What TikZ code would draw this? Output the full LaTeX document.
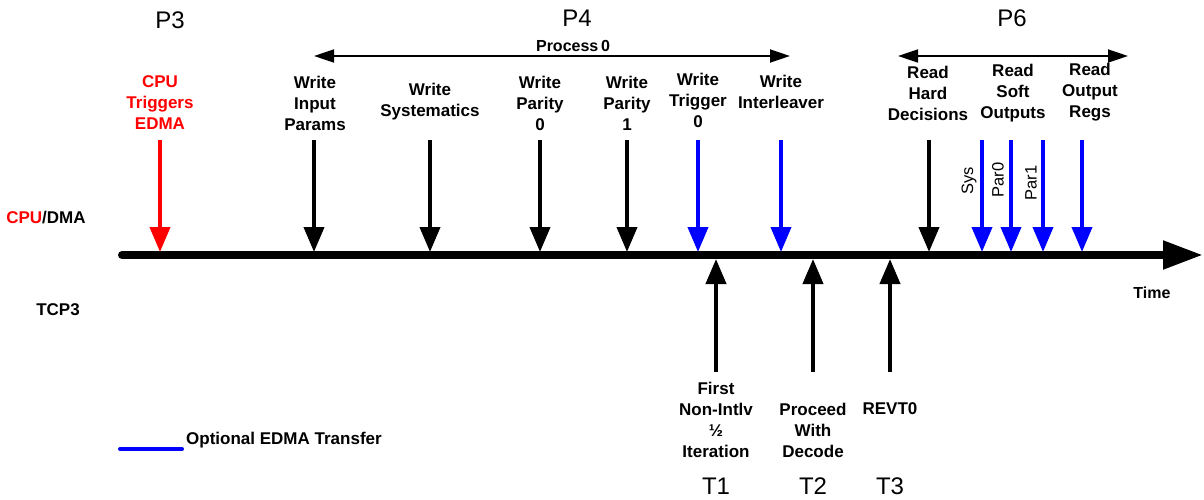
\documentclass[tikz,border=0pt]{standalone}
\usepackage{fontspec}
\setmainfont{Liberation Sans}
\usetikzlibrary{arrows.meta}
\begin{document}
\begin{tikzpicture}[x=1pt,y=-1pt,
  lbl/.style={font=\fontsize{17}{21}\selectfont\bfseries, align=center, inner sep=0pt},
  small/.style={font=\fontsize{16}{19}\selectfont\bfseries, inner sep=0pt},
  phase/.style={font=\fontsize{24}{28}\selectfont, inner sep=0pt},
  rot/.style={font=\fontsize{16.5}{19}\selectfont, inner sep=0pt, rotate=90},
  evt/.style={line width=4pt, -{Triangle[length=25pt,width=20pt]}},
  opt/.style={evt, draw=blue, fill=blue},
  span/.style={line width=1.8pt, {Triangle[length=20pt,width=13pt]}-{Triangle[length=20pt,width=13pt]}},
  axis/.style={line width=8pt, line cap=round, -{Triangle[length=40pt,width=27pt]}},
]
\useasboundingbox (0,0) rectangle (1204,500);

% phase headings
\node[phase] (p3) at (170,20) {P3};
\node[phase] (p4) at (577,18) {P4};
\node[phase] (p6) at (1012,18) {P6};

% spans over the phases
\coordinate (s4a) at (314,56);
\coordinate (s4b) at (790,56);
\draw[span] (s4a) -- (s4b);
\node[small] (proc) at (573,46) {Process\,0};
\coordinate (s6a) at (898,56);
\coordinate (s6b) at (1128,56);
\draw[span] (s6a) -- (s6b);

% row labels
\node[lbl] (cpudma) at (46,218) {\textcolor{red}{CPU}/DMA};
\node[lbl] (tcp) at (58,310) {TCP3};

% time axis
\coordinate (ax0) at (122,255);
\coordinate (ax1) at (1203,255);
\draw[axis] (ax0) -- (ax1);
\node[small] (time) at (1152,293) {Time};

% CPU / DMA events (above the axis)
\node[lbl, text=red] (cpu) at (160,103) {CPU\\Triggers\\EDMA};
\node[lbl] (win) at (315,103) {Write\\Input\\Params};
\node[lbl] (wsys) at (430,102) {Write\\Systematics};
\node[lbl] (wp0) at (540,103) {Write\\Parity\\0};
\node[lbl] (wp1) at (627,103) {Write\\Parity\\1};
\node[lbl] (wtr) at (698,100) {Write\\Trigger\\0};
\node[lbl] (wil) at (781,92) {Write\\Interleaver};
\node[lbl] (rhd) at (928,93) {Read\\Hard\\Decisions};
\node[lbl] (rso) at (1013,93) {Read\\Soft\\Outputs};
\node[lbl] (ror) at (1090,92) {Read\\Output\\Regs};

\foreach \n/\x in {cpu/160, win/314, wsys/430, wp0/540, wp1/627, wtr/698, wil/781,
                   rhd/929, sys/982, par0/1011, par1/1043, ror/1082} {
  \coordinate (\n-a) at (\x,140);
  \coordinate (\n-b) at (\x,252);
}
\draw[evt, draw=red, fill=red] (cpu-a) -- (cpu-b);
\foreach \n in {win, wsys, wp0, wp1, rhd}
  \draw[evt] (\n-a) -- (\n-b);
\foreach \n in {wtr, wil, sys, par0, par1, ror}
  \draw[opt] (\n-a) -- (\n-b);

\node[rot] (sysl) at (969,181) {Sys};
\node[rot] (par0l) at (998,180) {Par0};
\node[rot] (par1l) at (1031,183) {Par1};

% TCP3 events (below the axis)
\foreach \n/\x in {t1/716, t2/813, t3/890} {
  \coordinate (\n-a) at (\x,372);
  \coordinate (\n-b) at (\x,259);
  \draw[evt] (\n-a) -- (\n-b);
}
\node[lbl] (t1l) at (716,420) {First\\Non-Intlv\\½\\Iteration};
\node[lbl] (t2l) at (813,430) {Proceed\\With\\Decode};
\node[lbl] (t3l) at (890,409) {REVT0};
\node[phase] (T1) at (716,486) {T1};
\node[phase] (T2) at (813,486) {T2};
\node[phase] (T3) at (890,486) {T3};

% legend
\coordinate (lg0) at (120,449);
\coordinate (lg1) at (182,449);
\draw[blue, line width=4pt, line cap=round] (lg0) -- (lg1);
\node[lbl, anchor=west] (lgt) at (186,440) {Optional EDMA Transfer};
\end{tikzpicture}
\end{document}
